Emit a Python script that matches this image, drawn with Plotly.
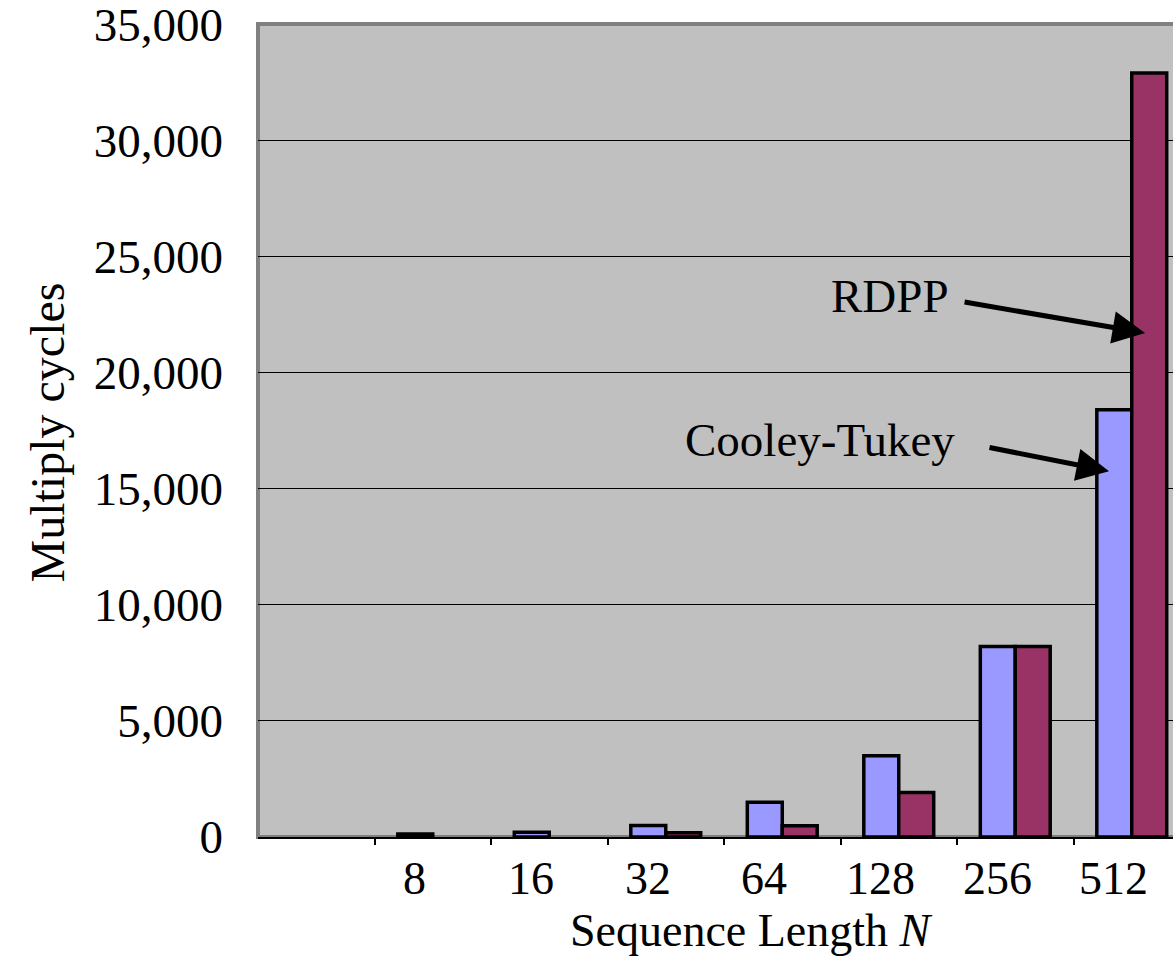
import plotly.graph_objects as go

# Sequence lengths (first slot left empty on the category axis)
categories = ["", "8", "16", "32", "64", "128", "256", "512"]
cooley_tukey = [None, 130, 200, 500, 1500, 3500, 8200, 18400]
rdpp = [None, None, None, 180, 480, 1920, 8200, 32900]
y_ticks = [0, 5000, 10000, 15000, 20000, 25000, 30000, 35000]

FONT = "Liberation Serif, Times New Roman, serif"
FS = 47
idx = list(range(len(categories)))

fig = go.Figure()
fig.add_trace(go.Bar(
    x=idx, y=cooley_tukey, name="Cooley-Tukey",
    marker=dict(color="#9999FF", line=dict(color="black", width=3.5)),
))
fig.add_trace(go.Bar(
    x=idx, y=rdpp, name="RDPP",
    marker=dict(color="#993366", line=dict(color="black", width=3.5)),
))

# category labels, set slightly left of each group
annotations = []
for i, lab in enumerate(categories):
    if lab:
        annotations.append(dict(
            x=i, xref="x", y=0, yref="paper", text=lab, showarrow=False,
            xshift=-18, yshift=-41, xanchor="center", yanchor="middle",
            font=dict(family=FONT, size=46, color="black"),
        ))

annotations += [
    dict(x=0.539, xref="paper", y=0, yref="paper", yshift=-93,
         text="Sequence Length <i>N</i>", showarrow=False,
         xanchor="center", yanchor="middle",
         font=dict(family=FONT, size=46, color="black")),
    dict(x=-0.23, xref="paper", y=0.497, yref="paper", text="Multiply cycles",
         textangle=-90, showarrow=False, xanchor="center", yanchor="middle",
         font=dict(family=FONT, size=48, color="black")),
    # series callouts
    dict(x=4.925, y=23305, xref="x", yref="y", text="RDPP", showarrow=False,
         xanchor="center", yanchor="middle",
         font=dict(family=FONT, size=FS, color="black")),
    dict(x=7.114, y=21708, ax=5.552, ay=23046, xref="x", yref="y",
         axref="x", ayref="y", text="", showarrow=True,
         arrowhead=2, arrowsize=1.3, arrowwidth=5, arrowcolor="black"),
    dict(x=4.324, y=17090, xref="x", yref="y", text="Cooley-Tukey", showarrow=False,
         xanchor="center", yanchor="middle",
         font=dict(family=FONT, size=FS, color="black")),
    dict(x=6.805, y=15752, ax=5.766, ay=16788, xref="x", yref="y",
         axref="x", ayref="y", text="", showarrow=True,
         arrowhead=2, arrowsize=1.3, arrowwidth=5, arrowcolor="black"),
]

fig.update_layout(
    width=1173, height=957,
    margin=dict(l=258, r=0, t=24, b=120),
    paper_bgcolor="white",
    plot_bgcolor="#C0C0C0",
    barmode="group", bargap=0.4, bargroupgap=0,
    showlegend=False,
    font=dict(family=FONT, size=FS, color="black"),
    annotations=annotations,
    shapes=[dict(type="rect", xref="paper", yref="paper", x0=0, x1=1.05, y0=0, y1=1,
                 line=dict(color="#808080", width=4), layer="below")],
)
fig.update_xaxes(
    range=[-0.5, 7.354], showgrid=False, zeroline=False,
    showline=True, linecolor="black", linewidth=1.5,
    tickmode="array", tickvals=[0.5, 1.5, 2.5, 3.5, 4.5, 5.5, 6.5],
    ticks="outside", ticklen=6, tickwidth=1.5, tickcolor="black",
    showticklabels=False,
)
fig.update_yaxes(
    range=[0, 35010], tickmode="array", tickvals=y_ticks,
    tickformat=",", ticks="", ticklabelstandoff=34, ticklabeloverflow="allow",
    showgrid=True, gridcolor="black", gridwidth=1, zeroline=False,
    tickfont=dict(family=FONT, size=FS, color="black"),
)

fig.write_html("out.html")
